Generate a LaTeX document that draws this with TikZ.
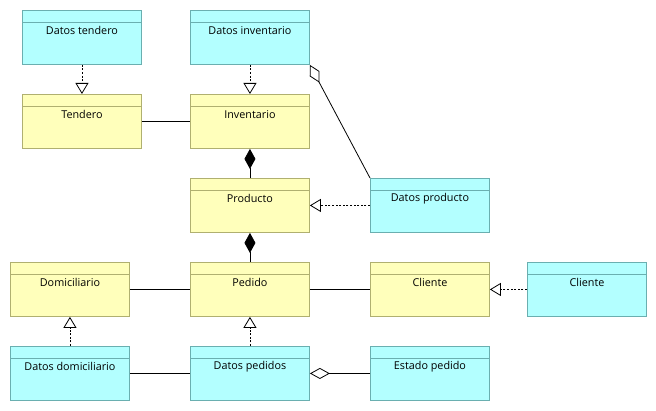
\documentclass[tikz,border=0pt]{standalone}
\usepackage{fontspec}
\setmainfont{Open Sans}
\usetikzlibrary{arrows.meta}
\definecolor{cyfill}{HTML}{B3FFFF}
\definecolor{cydraw}{HTML}{6AAFB0}
\definecolor{yefill}{HTML}{FFFFBB}
\definecolor{yedraw}{HTML}{B0B070}
\tikzset{
  cybox/.style={draw=cydraw, fill=cyfill, line width=0.9pt, rectangle, inner sep=0pt},
  yebox/.style={draw=yedraw, fill=yefill, line width=0.9pt, rectangle, inner sep=0pt},
  cybox-line/.style={draw=cydraw, line width=0.9pt},
  yebox-line/.style={draw=yedraw, line width=0.9pt},
  lbl/.style={font=\fontsize{10.8}{13}\selectfont, inner sep=0pt},
  assoc/.style={line width=0.8pt, black},
  realize/.style={line width=0.8pt, black, dash pattern=on 2pt off 1.6pt, -{Triangle[open, length=11pt, width=13pt, line width=0.8pt]}},
  compose/.style={line width=0.8pt, black, -{Diamond[length=20pt, width=11pt, fill=black]}},
  aggreg/.style={line width=0.8pt, black, -{Diamond[open, length=20pt, width=11pt, line width=0.8pt]}},
}
\newcommand\ubox[5]{%
  \node[#2, minimum width=119pt, minimum height=54pt, anchor=north west] (#1) at (#3,#4) {};
  \draw[#2-line] ([yshift=-12pt]#1.north west) -- ([yshift=-12pt]#1.north east);
  \node[lbl] at ([yshift=-20.5pt]#1.north) {#5};
}
\begin{document}
\begin{tikzpicture}[x=1pt, y=-1pt]
\useasboundingbox (0,0) rectangle (656,411);
\ubox{dten}{cybox}{22}{10}{Datos tendero}
\ubox{dinv}{cybox}{190}{10}{Datos inventario}
\ubox{ten}{yebox}{22}{94}{Tendero}
\ubox{inv}{yebox}{190}{94}{Inventario}
\ubox{prod}{yebox}{190}{178}{Producto}
\ubox{dprod}{cybox}{370}{178}{Datos producto}
\ubox{dom}{yebox}{10}{262}{Domiciliario}
\ubox{ped}{yebox}{190}{262}{Pedido}
\ubox{cli}{yebox}{370}{262}{Cliente}
\ubox{dcli}{cybox}{527}{262}{Cliente}
\ubox{ddom}{cybox}{10}{346}{Datos domiciliario}
\ubox{dped}{cybox}{190}{346}{Datos pedidos}
\ubox{est}{cybox}{370}{346}{Estado pedido}

\draw[realize] (dten.south) -- (ten.north);
\draw[realize] (dinv.south) -- (inv.north);
\draw[assoc] (ten.east) -- (inv.west);
\draw[compose] (prod.north) -- (inv.south);
\draw[compose] (ped.north) -- (prod.south);
\draw[realize] (dprod.west) -- (prod.east);
\draw[aggreg] (dprod.north west) -- (dinv.south east);
\draw[assoc] (dom.east) -- (ped.west);
\draw[assoc] (ped.east) -- (cli.west);
\draw[realize] (dcli.west) -- (cli.east);
\draw[realize] (ddom.north) -- (dom.south);
\draw[realize] (dped.north) -- (ped.south);
\draw[assoc] (ddom.east) -- (dped.west);
\draw[aggreg] (est.west) -- (dped.east);
\end{tikzpicture}
\end{document}
